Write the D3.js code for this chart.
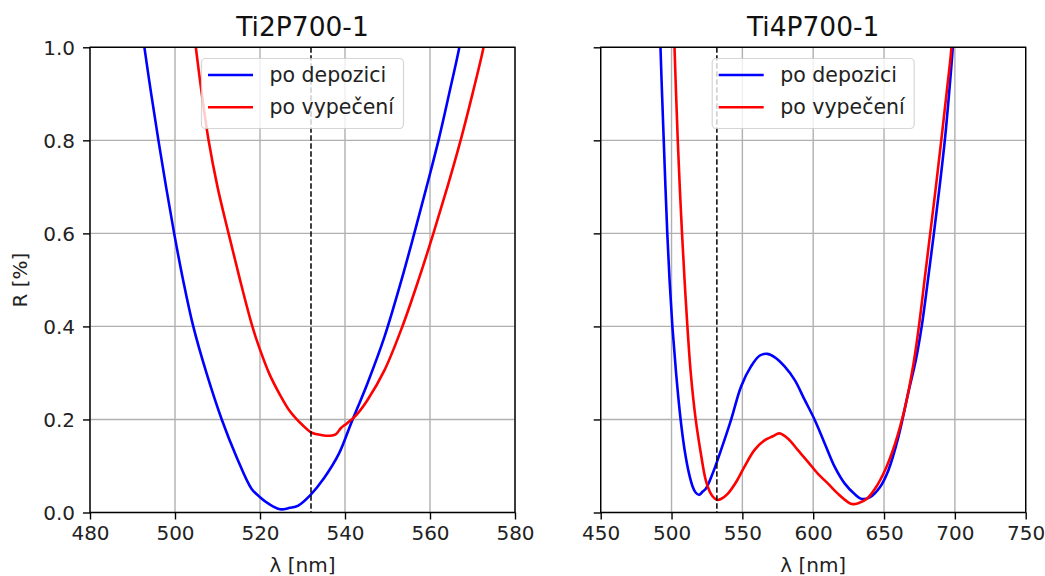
<!DOCTYPE html>
<html>
<head>
<meta charset="utf-8">
<script src="https://cdn.jsdelivr.net/npm/d3@7"></script>
<style>
  html, body { margin: 0; padding: 0; background: #fff; }
  svg { display: block; font-family: "DejaVu Sans", sans-serif; }
</style>
</head>
<body>
<svg id="chart" width="1045" height="576"></svg>
<script>
// Reflectance spectra [wavelength nm, R %]
const ti2Depozici = [
  [492.4, 1.03], [492.8, 1.00], [494.4, 0.90], [496.1, 0.80], [497.9, 0.70],
  [499.8, 0.60], [501.9, 0.50], [504.3, 0.40], [507.4, 0.30], [511.0, 0.20],
  [514.5, 0.119], [518.0, 0.051], [520.0, 0.033], [522.0, 0.019], [524.7, 0.007],
  [527.0, 0.010], [529.0, 0.015], [531.9, 0.038], [535.0, 0.073], [538.6, 0.127],
  [541.4, 0.191], [545.3, 0.278], [549.3, 0.378], [553.3, 0.50], [556.3, 0.60],
  [559.2, 0.70], [562.0, 0.80], [564.5, 0.90], [566.9, 1.00], [567.4, 1.03]
];
const ti2Vypeceni = [
  [504.5, 1.03], [504.9, 1.00], [506.3, 0.90], [507.9, 0.80], [510.0, 0.70],
  [512.6, 0.60], [515.3, 0.50], [518.2, 0.40], [520.0, 0.350], [522.2, 0.298],
  [524.7, 0.253], [527.0, 0.218], [528.5, 0.202], [530.0, 0.188], [531.9, 0.173],
  [533.5, 0.168], [535.5, 0.165], [537.8, 0.168], [539.0, 0.181], [540.5, 0.192],
  [542.6, 0.209], [545.3, 0.242], [549.3, 0.306], [553.5, 0.40], [557.3, 0.50],
  [560.8, 0.60], [564.1, 0.70], [567.2, 0.80], [570.0, 0.90], [572.6, 1.00], [573.1, 1.03]
];
const ti4Depozici = [
  [491.9, 1.04], [492.2, 1.00], [493.3, 0.90], [494.5, 0.80], [495.7, 0.70],
  [497.0, 0.60], [498.6, 0.50], [500.6, 0.40], [503.2, 0.30], [506.4, 0.20],
  [509.2, 0.135], [512.4, 0.083], [515.0, 0.055], [517.0, 0.043], [519.5, 0.038],
  [522.0, 0.045], [524.2, 0.051], [528.9, 0.083], [534.9, 0.134], [542.0, 0.199],
  [549.1, 0.271], [556.1, 0.314], [562.1, 0.337], [567.5, 0.341], [572.7, 0.334],
  [579.8, 0.314], [586.9, 0.285], [594.0, 0.242], [601.1, 0.199], [608.2, 0.148],
  [615.2, 0.098], [622.3, 0.062], [629.4, 0.039], [634.2, 0.029], [640.1, 0.033],
  [647.2, 0.055], [653.1, 0.091], [660.2, 0.163], [667.0, 0.256], [672.6, 0.33],
  [676.6, 0.40], [681.0, 0.50], [685.2, 0.60], [689.2, 0.70], [692.9, 0.80],
  [695.9, 0.90], [698.5, 1.00], [699.0, 1.04]
];
const ti4Vypeceni = [
  [501.8, 1.04], [502.1, 1.00], [503.2, 0.90], [504.4, 0.80], [505.8, 0.70],
  [507.4, 0.60], [509.2, 0.50], [511.2, 0.40], [513.6, 0.299], [517.1, 0.199],
  [520.7, 0.127], [524.2, 0.069], [527.8, 0.040], [530.5, 0.030], [532.5, 0.027],
  [534.9, 0.029], [539.6, 0.040], [545.5, 0.065], [551.4, 0.098], [558.5, 0.134],
  [565.6, 0.155], [571.5, 0.164], [576.2, 0.170], [582.1, 0.159], [589.2, 0.134],
  [596.3, 0.109], [603.4, 0.083], [610.5, 0.062], [617.6, 0.040], [624.7, 0.022],
  [628.0, 0.018], [631.8, 0.020], [637.7, 0.029], [643.6, 0.051], [650.7, 0.091],
  [657.8, 0.148], [664.9, 0.227], [670.8, 0.32], [674.6, 0.40], [678.6, 0.50],
  [682.6, 0.60], [686.6, 0.70], [690.4, 0.80], [694.1, 0.90], [697.6, 1.00], [698.1, 1.04]
];

const seriesNames = ["po depozici", "po vypečení"];
const seriesColors = ["#0000ff", "#ff0000"];
const laserLine = 532;
const xTicksTi2 = [480, 500, 520, 540, 560, 580];
const xTicksTi4 = [450, 500, 550, 600, 650, 700, 750];
const yTicks = [0.0, 0.2, 0.4, 0.6, 0.8, 1.0];
const titles = ["Ti2P700-1", "Ti4P700-1"];

const svg = d3.select("#chart");
const plotTop = 47.3, plotBottom = 512.5;
const y = d3.scaleLinear().domain([0, 1]).range([plotBottom, plotTop]);

const panels = [
  { title: titles[0], x0: 90, x1: 515, domain: [480, 580], ticks: xTicksTi2,
    series: [ti2Depozici, ti2Vypeceni], yLabels: true },
  { title: titles[1], x0: 600.7, x1: 1025.7, domain: [450, 750], ticks: xTicksTi4,
    series: [ti4Depozici, ti4Vypeceni], yLabels: false }
];

panels.forEach((p, i) => {
  const x = d3.scaleLinear().domain(p.domain).range([p.x0, p.x1]);
  const g = svg.append("g");
  const w = p.x1 - p.x0, h = plotBottom - plotTop;

  g.append("clipPath").attr("id", "clip" + i)
    .append("rect").attr("x", p.x0).attr("y", plotTop).attr("width", w).attr("height", h);

  // grid
  g.append("g").selectAll("line").data(p.ticks).join("line")
    .attr("x1", d => x(d)).attr("x2", d => x(d)).attr("y1", plotTop).attr("y2", plotBottom)
    .attr("stroke", "#b0b0b0").attr("stroke-width", 1.4);
  g.append("g").selectAll("line").data(yTicks).join("line")
    .attr("x1", p.x0).attr("x2", p.x1).attr("y1", d => y(d)).attr("y2", d => y(d))
    .attr("stroke", "#b0b0b0").attr("stroke-width", 1.4);

  // spectra
  const line = d3.line().x(d => x(d[0])).y(d => y(d[1])).curve(d3.curveCatmullRom.alpha(0.5));
  const plot = g.append("g").attr("clip-path", `url(#clip${i})`);
  p.series.forEach((s, k) => {
    plot.append("path").datum(s).attr("d", line)
      .attr("fill", "none").attr("stroke", seriesColors[k]).attr("stroke-width", 2.6)
      .attr("stroke-linejoin", "round");
  });
  plot.append("line")
    .attr("x1", x(laserLine)).attr("x2", x(laserLine)).attr("y1", plotTop).attr("y2", plotBottom)
    .attr("stroke", "#000").attr("stroke-width", 1.5).attr("stroke-dasharray", "5.5,2.5");

  // axes
  const xAxis = d3.axisBottom(x).tickValues(p.ticks).tickSize(7).tickPadding(6)
    .tickFormat(d3.format("d"));
  const xg = g.append("g").attr("transform", `translate(0,${plotBottom})`).call(xAxis);
  const yAxis = d3.axisLeft(y).tickValues(yTicks).tickSize(7).tickPadding(8)
    .tickFormat(p.yLabels ? d3.format(".1f") : () => "");
  const yg = g.append("g").attr("transform", `translate(${p.x0},0)`).call(yAxis);
  [xg, yg].forEach(a => {
    a.select(".domain").remove();
    a.selectAll(".tick line").attr("stroke", "#000").attr("stroke-width", 1.4);
    a.selectAll(".tick text").attr("fill", "#222").style("font-size", "20px")
      .style("font-family", "DejaVu Sans, sans-serif");
  });
  yg.selectAll(".tick text").attr("dy", "0.36em");

  // frame
  g.append("rect").attr("x", p.x0).attr("y", plotTop).attr("width", w).attr("height", h)
    .attr("fill", "none").attr("stroke", "#000").attr("stroke-width", 1.4);

  // title and axis label
  const cx = (p.x0 + p.x1) / 2;
  g.append("text").attr("x", cx).attr("y", 36).attr("text-anchor", "middle")
    .style("font-size", "26.5px").attr("fill", "#111").text(p.title);
  g.append("text").attr("x", cx).attr("y", 572).attr("text-anchor", "middle")
    .style("font-size", "20px").attr("fill", "#222").text("λ [nm]");

  // legend
  const lw = 202, lh = 70, lx = cx - lw / 2, ly = 58.5;
  const lg = g.append("g");
  lg.append("rect").attr("x", lx).attr("y", ly).attr("width", lw).attr("height", lh)
    .attr("rx", 4).attr("fill", "#fff").attr("fill-opacity", 0.8)
    .attr("stroke", "#cccccc").attr("stroke-opacity", 0.8).attr("stroke-width", 1.2);
  seriesNames.forEach((name, k) => {
    const yy = ly + 16.5 + k * 32.3;
    lg.append("line").attr("x1", lx + 6.5).attr("x2", lx + 51.5).attr("y1", yy).attr("y2", yy)
      .attr("stroke", seriesColors[k]).attr("stroke-width", 2.6);
    lg.append("text").attr("x", lx + 68).attr("y", yy + 7)
      .style("font-size", "20.5px").attr("fill", "#222").text(name);
  });
});

// shared y label
svg.append("text").attr("transform", "translate(27,280) rotate(-90)")
  .attr("text-anchor", "middle").style("font-size", "20px").attr("fill", "#222").text("R [%]");
</script>
</body>
</html>
